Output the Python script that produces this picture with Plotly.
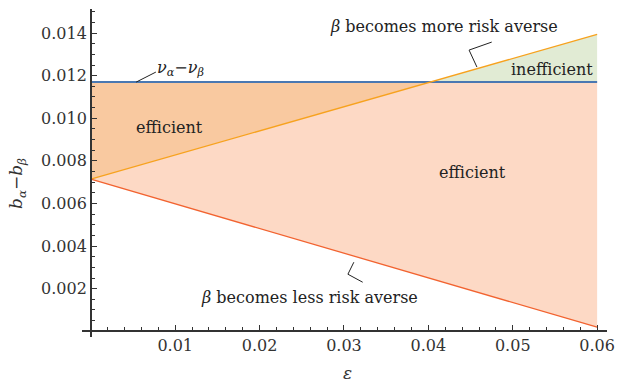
import plotly.graph_objects as go

# Endpoints of the two bounding lines over the epsilon range
eps = [0.0, 0.06]
more_averse = [0.00714, 0.01394]   # beta becomes more risk averse
less_averse = [0.00714, 0.00019]   # beta becomes less risk averse
v_diff = 0.0117                    # nu_alpha - nu_beta

x_ticks = [0.01, 0.02, 0.03, 0.04, 0.05, 0.06]
y_ticks = [0.002, 0.004, 0.006, 0.008, 0.010, 0.012, 0.014]
y_tick_text = ["0.002", "0.004", "0.006", "0.008", "0.010", "0.012", "0.014"]

XMIN, XMAX = -0.00105, 0.06117
YMIN, YMAX = -0.00027, 0.01513

FONT = "DejaVu Serif"
INK = "#333333"

# crossing of the rising line with the horizontal level
slope_up = (more_averse[1] - more_averse[0]) / (eps[1] - eps[0])
x_cross = eps[0] + (v_diff - more_averse[0]) / slope_up

fig = go.Figure()

# light region: between the falling line and min(rising line, level)
fig.add_trace(go.Scatter(
    x=[eps[0], x_cross, eps[1], eps[1], eps[0]],
    y=[more_averse[0], v_diff, v_diff, less_averse[1], less_averse[0]],
    fill="toself", fillcolor="#fdd9c5", line=dict(width=0), mode="lines",
    hoverinfo="skip", showlegend=False))

# darker region: between rising line and level, left of the crossing
fig.add_trace(go.Scatter(
    x=[eps[0], eps[0], x_cross, eps[0]],
    y=[more_averse[0], v_diff, v_diff, more_averse[0]],
    fill="toself", fillcolor="#f9c9a0", line=dict(width=0), mode="lines",
    hoverinfo="skip", showlegend=False))

# green region: rising line above the level, right of the crossing
fig.add_trace(go.Scatter(
    x=[x_cross, eps[1], eps[1], x_cross],
    y=[v_diff, more_averse[1], v_diff, v_diff],
    fill="toself", fillcolor="#e1ebd4", line=dict(width=0), mode="lines",
    hoverinfo="skip", showlegend=False))

# bounding lines
fig.add_trace(go.Scatter(x=eps, y=[v_diff, v_diff], mode="lines",
                         line=dict(color="#4a78b2", width=2), showlegend=False))
fig.add_trace(go.Scatter(x=eps, y=more_averse, mode="lines",
                         line=dict(color="#f7a21e", width=1.3), showlegend=False))
fig.add_trace(go.Scatter(x=eps, y=less_averse, mode="lines",
                         line=dict(color="#f26330", width=1.3), showlegend=False))


def px_to_data(px, py):
    return (px - 91) / 8567.0, (331 - py) / 21286.0


def leader(points):
    xs, ys = zip(*[px_to_data(*p) for p in points])
    fig.add_trace(go.Scatter(x=xs, y=ys, mode="lines",
                             line=dict(color="#222222", width=1),
                             hoverinfo="skip", showlegend=False))


leader([(137, 82), (157, 72)])
leader([(498, 42), (475, 50), (483, 67)])
leader([(358, 262), (352, 274), (367, 282)])

ann_font = dict(family=FONT, size=16, color="#222222")


def label(text, px, py):
    x, y = px_to_data(px, py)
    fig.add_annotation(x=x, y=y, text=text, showarrow=False, font=ann_font,
                       xanchor="center", yanchor="middle")


label("<i>ν<sub>α</sub></i>−<i>ν<sub>β</sub></i>", 182, 68)
label("efficient", 171, 127)
label("efficient", 478, 172)
label("inefficient", 559, 69)
label("<i>β</i> becomes more risk averse", 450, 26)
label("<i>β</i> becomes less risk averse", 313, 297)

axis_common = dict(
    showgrid=False, zeroline=False, showline=True, linecolor="#333333",
    linewidth=1.5, ticks="inside", ticklen=5, tickwidth=1.3, tickcolor="#333333",
    tickfont=dict(family=FONT, size=16, color=INK),
)

fig.update_layout(
    width=623, height=384,
    margin=dict(l=82, r=8, t=9, b=47),
    plot_bgcolor="white", paper_bgcolor="white",
    font=dict(family=FONT),
    xaxis=dict(
        range=[XMIN, XMAX], tickvals=x_ticks, ticktext=[f"{v:.2f}" for v in x_ticks],
        anchor="free", position=(0 - YMIN) / (YMAX - YMIN),
        minor=dict(ticks="inside", ticklen=3, tickwidth=1.1, tickcolor="#333333",
                   dtick=0.002, tick0=0),
        **axis_common),
    yaxis=dict(
        range=[YMIN, YMAX], tickvals=y_ticks, ticktext=y_tick_text,
        anchor="free", position=(0 - XMIN) / (XMAX - XMIN),
        minor=dict(ticks="inside", ticklen=3, tickwidth=1.1, tickcolor="#333333",
                   dtick=0.0005, tick0=0),
        **axis_common),
)

# axis titles
fig.add_annotation(xref="paper", yref="paper", x=(352 - 82) / 533.0, y=-(373 - 337) / 328.0,
                   text="<i>ε</i>", showarrow=False,
                   font=dict(family=FONT, size=17, color=INK),
                   xanchor="center", yanchor="middle")
fig.add_annotation(xref="paper", yref="paper", x=-(82 - 16) / 533.0, y=(337 - 183) / 328.0,
                   text="<i>b<sub>α</sub></i>−<i>b<sub>β</sub></i>", showarrow=False,
                   textangle=-90, font=dict(family=FONT, size=17, color=INK),
                   xanchor="center", yanchor="middle")

fig.write_html("out.html")
